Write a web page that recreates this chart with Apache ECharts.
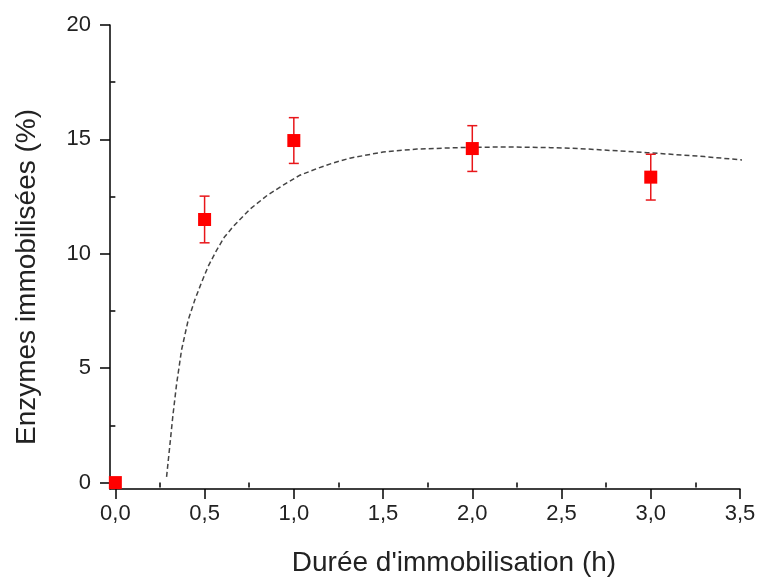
<!DOCTYPE html>
<html>
<head>
<meta charset="utf-8">
<script src="https://cdn.jsdelivr.net/npm/echarts@6/dist/echarts.min.js"></script>
<style>html,body{margin:0;padding:0;background:#fff}#c{width:759px;height:578px}</style>
</head>
<body>
<div id="c"></div>
<script>
// Measured data
var durations = [0, 0.5, 1.0, 2.0, 3.0];
var enzymes = [0, 11.5, 14.95, 14.6, 13.35];
var errors = [0, 1.02, 1.0, 1.0, 1.0];

// Fitted curve
var fitX = [0.287, 0.305, 0.322, 0.343, 0.371, 0.408, 0.446, 0.483, 0.52, 0.567, 0.61, 0.66, 0.754, 0.85, 0.94, 1.03, 1.128, 1.22, 1.314, 1.5, 1.69, 1.97, 2.2, 2.44, 2.6, 2.98, 3.3, 3.58];
var fitY = [0.25, 1.6, 2.9, 4.3, 5.8, 7.1, 8.0, 8.75, 9.45, 10.15, 10.72, 11.19, 11.95, 12.55, 13.0, 13.42, 13.72, 13.97, 14.18, 14.45, 14.58, 14.65, 14.67, 14.64, 14.6, 14.42, 14.25, 14.05];

// Tick values
var xMajor = [0, 0.5, 1.0, 1.5, 2.0, 2.5, 3.0, 3.5];
var xMinor = [0.25, 0.75, 1.25, 1.75, 2.25, 2.75, 3.25];
var yMajor = [0, 5, 10, 15, 20];
var yMinor = [2.5, 7.5, 12.5, 17.5];

var FONT = 'Liberation Sans, Arial, sans-serif';
var chart = echarts.init(document.getElementById('c'), null, {renderer: 'canvas'});

var pts = durations.map(function (d, i) { return [d, enzymes[i]]; });
var errData = [];
durations.forEach(function (d, i) {
  if (errors[i] > 0) errData.push([d, enzymes[i] - errors[i], enzymes[i] + errors[i]]);
});
var fit = fitX.map(function (x, i) { return [x, fitY[i]]; });

var axisLineStyle = {color: '#000', width: 1.5};

chart.setOption({
  animation: false,
  backgroundColor: '#fff',
  grid: {left: 110, right: 19, top: 25, bottom: 89, containLabel: false},
  xAxis: [{
    type: 'value', min: -0.03, max: 3.5,
    axisLine: {show: true, lineStyle: axisLineStyle, onZero: false},
    axisTick: {show: true, inside: false, length: 10, lineStyle: axisLineStyle, customValues: xMajor},
    axisLabel: {show: true, customValues: xMajor, margin: 14, fontSize: 22, color: '#222', fontFamily: FONT,
      formatter: function (v) { return v.toFixed(1).replace('.', ','); }},
    splitLine: {show: false}
  }, {
    type: 'value', min: -0.03, max: 3.5, position: 'bottom',
    axisLine: {show: false},
    axisTick: {show: true, inside: false, length: 5, lineStyle: axisLineStyle, customValues: xMinor},
    axisLabel: {show: false},
    splitLine: {show: false}
  }],
  yAxis: [{
    type: 'value', min: -0.28, max: 20,
    axisLine: {show: true, lineStyle: axisLineStyle, onZero: false},
    axisTick: {show: true, inside: false, length: 10, lineStyle: axisLineStyle, customValues: yMajor},
    axisLabel: {show: true, customValues: yMajor, margin: 19, fontSize: 22, color: '#222', fontFamily: FONT},
    splitLine: {show: false}
  }, {
    type: 'value', min: -0.28, max: 20, position: 'left',
    axisLine: {show: false},
    axisTick: {show: true, inside: false, length: 5, lineStyle: axisLineStyle, customValues: yMinor},
    axisLabel: {show: false},
    splitLine: {show: false}
  }],
  graphic: [{
    type: 'text', x: 454, y: 563,
    style: {text: "Durée d'immobilisation (h)", font: '28px ' + FONT, fill: '#222', align: 'center', verticalAlign: 'middle'}
  }, {
    type: 'text', x: 27, y: 277, rotation: Math.PI / 2,
    style: {text: 'Enzymes immobilisées (%)', font: '28px ' + FONT, fill: '#222', align: 'center', verticalAlign: 'middle'}
  }],
  series: [{
    type: 'line', data: fit, xAxisIndex: 0, yAxisIndex: 0,
    showSymbol: false, smooth: false, clip: false,
    lineStyle: {color: '#444', width: 1.5, type: [5, 3]},
    z: 2
  }, {
    type: 'custom', data: errData, xAxisIndex: 0, yAxisIndex: 0, clip: false,
    renderItem: function (params, api) {
      var x = api.value(0);
      var lo = api.coord([x, api.value(1)]);
      var hi = api.coord([x, api.value(2)]);
      var cw = 5;
      var st = {stroke: '#e8161a', lineWidth: 1.5};
      return {type: 'group', children: [
        {type: 'line', shape: {x1: lo[0], y1: lo[1], x2: hi[0], y2: hi[1]}, style: st},
        {type: 'line', shape: {x1: lo[0] - cw, y1: lo[1], x2: lo[0] + cw, y2: lo[1]}, style: st},
        {type: 'line', shape: {x1: hi[0] - cw, y1: hi[1], x2: hi[0] + cw, y2: hi[1]}, style: st}
      ]};
    },
    z: 3
  }, {
    type: 'scatter', data: pts, xAxisIndex: 0, yAxisIndex: 0,
    symbol: 'rect', symbolSize: 13, clip: false,
    itemStyle: {color: '#ff0000', opacity: 1},
    z: 4
  }]
});
</script>
</body>
</html>
